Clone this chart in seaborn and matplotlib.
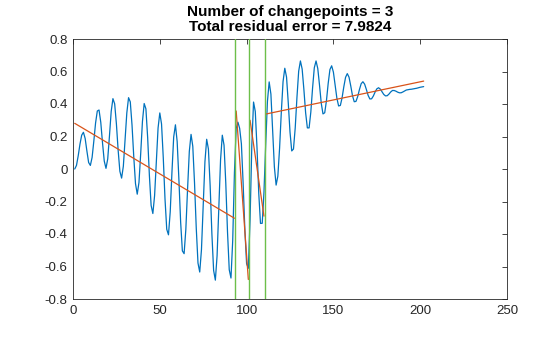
import matplotlib
matplotlib.use("Agg")
import matplotlib.pyplot as plt
import seaborn as sns
import pandas as pd

# Signal values (sample index 1..202)
signal = [
    0.000, 0.022, 0.081, 0.152, 0.208, 0.226, 0.188, 0.111, 0.040, 0.022,
    0.071, 0.172, 0.283, 0.357, 0.363, 0.287, 0.161, 0.049, 0.004, 0.062,
    0.203, 0.354, 0.433, 0.401, 0.278, 0.116, -0.014, -0.056, 0.017, 0.176,
    0.345, 0.439, 0.413, 0.270, 0.076, -0.090, -0.155, -0.083, 0.096, 0.292,
    0.403, 0.370, 0.194, -0.040, -0.224, -0.274, -0.164, 0.046, 0.252, 0.345,
    0.277, 0.069, -0.185, -0.371, -0.405, -0.264, -0.019, 0.197, 0.272, 0.169,
    -0.064, -0.326, -0.504, -0.521, -0.371, -0.122, 0.108, 0.213, 0.140, -0.085,
    -0.364, -0.579, -0.634, -0.496, -0.226, 0.045, 0.183, 0.123, -0.103, -0.398,
    -0.624, -0.684, -0.533, -0.238, 0.057, 0.208, 0.147, -0.085, -0.387, -0.620,
    -0.671, -0.440, -0.020, 0.250, 0.288, 0.250, 0.155, -0.088, -0.374, -0.583,
    -0.611, -0.312, 0.144, 0.412, 0.354, 0.129, -0.149, -0.335, -0.334, -0.143,
    0.149, 0.416, 0.536, 0.461, 0.243, 0.013, -0.099, -0.044, 0.128, 0.350,
    0.538, 0.620, 0.566, 0.407, 0.228, 0.111, 0.123, 0.252, 0.440, 0.602,
    0.665, 0.615, 0.489, 0.346, 0.253, 0.253, 0.351, 0.498, 0.623, 0.665,
    0.618, 0.516, 0.405, 0.339, 0.346, 0.421, 0.527, 0.612, 0.635, 0.596,
    0.518, 0.436, 0.388, 0.391, 0.438, 0.506, 0.564, 0.587, 0.565, 0.511,
    0.451, 0.414, 0.416, 0.446, 0.489, 0.525, 0.537, 0.522, 0.489, 0.453,
    0.431, 0.432, 0.449, 0.473, 0.493, 0.500, 0.492, 0.476, 0.459, 0.450,
    0.451, 0.461, 0.474, 0.483, 0.483, 0.479, 0.473, 0.469, 0.469, 0.474,
    0.480, 0.486, 0.488, 0.490, 0.491, 0.493, 0.495, 0.497, 0.500, 0.503,
    0.505, 0.507,
]
sample_index = list(range(1, len(signal) + 1))

# Changepoint markers and fitted linear segments
changepoints = [93.5, 101.5, 110.5]
seg_x_start = [1, 94, 102, 111]
seg_x_end = [93, 101, 110, 202]
seg_y_start = [0.281, 0.357, 0.300, 0.338]
seg_y_end = [-0.303, -0.680, -0.290, 0.541]

title_lines = ["Number of changepoints = 3", "Total residual error = 7.9824"]
x_ticks = [0, 50, 100, 150, 200, 250]
y_ticks = [-0.8, -0.6, -0.4, -0.2, 0, 0.2, 0.4, 0.6, 0.8]
y_tick_labels = ["-0.8", "-0.6", "-0.4", "-0.2", "0", "0.2", "0.4", "0.6", "0.8"]

sns.set_theme(style="white")
plt.rcParams["font.family"] = ["Liberation Sans", "DejaVu Sans"]
plt.rcParams["xtick.direction"] = "in"
plt.rcParams["ytick.direction"] = "in"

fig = plt.figure(figsize=(5.6, 3.37), dpi=100)
ax = fig.add_axes([73 / 560, 1 - 299 / 337, 434 / 560, 260 / 337])

df = pd.DataFrame({"x": sample_index, "y": signal})
sns.lineplot(data=df, x="x", y="y", ax=ax, color="#0072BD", linewidth=0.9,
             estimator=None, sort=False, zorder=2)

for xs, xe, ys, ye in zip(seg_x_start, seg_x_end, seg_y_start, seg_y_end):
    seg = pd.DataFrame({"x": [xs, xe], "y": [ys, ye]})
    sns.lineplot(data=seg, x="x", y="y", ax=ax, color="#D95319", linewidth=0.9,
                 estimator=None, sort=False, zorder=3)

for cp in changepoints:
    ax.axvline(cp, color="#6DBF4A", linewidth=1.0, zorder=4)

ax.set_xlim(0, 250)
ax.set_ylim(-0.8, 0.8)
ax.set_xticks(x_ticks)
ax.set_yticks(y_ticks)
ax.set_xticklabels([str(v) for v in x_ticks])
ax.set_yticklabels(y_tick_labels)
ax.set_xlabel("")
ax.set_ylabel("")
ax.tick_params(axis="both", which="both", labelsize=9.5, colors="#262626",
               length=3.5, width=0.6, top=True, right=True, pad=4)
for s in ax.spines.values():
    s.set_color("#262626")
    s.set_linewidth(0.6)
ax.set_title("\n".join(title_lines), fontsize=11, fontweight="bold",
             color="#000000", pad=6, linespacing=1.05)

fig.savefig("out.png", dpi=100)
